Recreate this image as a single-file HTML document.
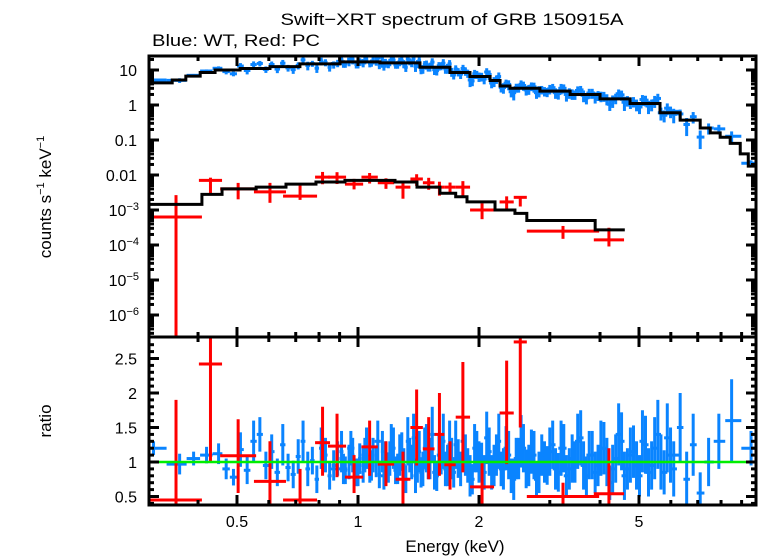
<!DOCTYPE html>
<html><head><meta charset="utf-8"><style>
html,body{margin:0;padding:0;background:#fff;}
svg{display:block;font-family:"Liberation Sans",sans-serif;}
</style></head><body>
<svg id="chart" width="758" height="556" viewBox="0 0 758 556" xmlns="http://www.w3.org/2000/svg">
<text x="452" y="25" font-size="17" text-anchor="middle" textLength="343" lengthAdjust="spacingAndGlyphs">Swift−XRT spectrum of GRB 150915A</text>
<text x="152" y="46" font-size="17" textLength="168" lengthAdjust="spacingAndGlyphs">Blue: WT, Red: PC</text>
<text transform="translate(51,197) rotate(-90)" font-size="17" text-anchor="middle">counts s<tspan font-size="11" dy="-7">−1</tspan><tspan dy="7"> keV</tspan><tspan font-size="11" dy="-7">−1</tspan></text>
<text transform="translate(51,421) rotate(-90)" font-size="17" text-anchor="middle">ratio</text>
<text x="455" y="552" font-size="17" text-anchor="middle">Energy (keV)</text>
<g id="gTop"></g>
<g id="gBot"></g>
<g id="gAxes"></g>
</svg>
<script>
// ---- data ----
const wtModelEdges=[0.304,0.345,0.373,0.405,0.441,0.509,0.604,0.717,0.902,1.134,1.426,1.694,1.899,2.131,2.256,2.388,2.835,3.37,4.0,4.75,5.64,6.33,7.1,7.52,7.96,8.43,8.93,9.35,9.79];
const wtModelVals=[4.3,5.2,6.7,8.5,10,11,12.5,15,17,16,12,8.5,6.5,5,3.5,3,2.5,2,1.5,1.1,0.6,0.37,0.22,0.16,0.12,0.08,0.04,0.018];
const pcModelEdges=[0.304,0.409,0.459,0.558,0.662,0.786,0.928,1.236,1.402,1.599,1.75,1.867,2.192,2.457,2.63,3.89,4.61];
const pcModelVals=[1.45e-3,2.8e-3,4e-3,4.5e-3,5.5e-3,6.3e-3,7e-3,6.3e-3,4.5e-3,3e-3,2.4e-3,1.7e-3,1e-3,8e-4,5e-4,2.7e-4];
const wtEnergy=[0.31,0.36,0.39,0.42,0.45,0.47,0.49,0.51,0.53,0.55,0.57,0.59,0.61,0.63,0.65,0.67,0.69,0.71,0.73,0.75,0.77,0.79,0.81,0.83,0.85,0.87,0.89,0.91,0.93,0.95,0.97,0.99,1.01,1.03,1.05,1.07,1.09,1.11,1.13,1.15,1.17,1.19,1.21,1.24,1.27,1.30,1.33,1.36,1.39,1.42,1.45,1.48,1.51,1.55,1.59,1.63,1.67,1.71,1.75,1.80,1.85,1.90,1.95,2.00,2.06,2.12,2.18,2.24,2.30,2.37,2.44,2.51,2.58,2.66,2.74,2.82,2.91,3.00,3.10,3.20,3.30,3.41,3.52,3.64,3.76,3.89,4.02,4.16,4.30,4.45,4.60,4.76,4.93,5.10,5.28,5.47,5.67,5.88,6.10,6.33,6.57,6.82,7.10,7.45,7.9,8.5,9.5];
const wtRatio=[1.2,0.97,1.05,1.1,1.12,0.9,0.78,1.18,0.88,1.3,1.4,0.95,1.15,0.85,1.25,0.92,0.82,1.08,1.3,0.9,1.02,0.75,1.2,1.1,0.8,0.95,1.05,1.15,0.88,1.0,1.1,0.85,1.05,0.95,1.2,0.9,1.1,1.0,0.82,1.15,1.05,0.92,1.25,0.88,1.1,0.95,1.3,1.0,0.8,1.15,0.9,1.2,1.05,0.85,1.1,1.3,0.95,1.05,1.25,0.9,1.1,0.8,1.2,1.0,0.85,1.15,0.95,1.3,0.9,1.1,0.75,1.05,1.2,0.95,1.1,0.85,1.0,1.15,0.9,1.2,0.8,1.05,1.3,0.95,1.1,0.85,1.2,1.0,0.9,1.4,0.8,1.1,0.95,1.3,0.85,1.2,1.0,1.35,0.9,1.5,0.75,1.25,0.55,1.0,1.3,1.6,1.2];
const wtErr=[0.1,0.15,0.1,0.12,0.15,0.15,0.12,0.25,0.2,0.3,0.25,0.2,0.25,0.2,0.3,0.2,0.2,0.25,0.3,0.25,0.2,0.2,0.3,0.25,0.2,0.22,0.25,0.3,0.2,0.25,0.25,0.2,0.22,0.25,0.3,0.2,0.25,0.22,0.2,0.3,0.25,0.22,0.3,0.2,0.3,0.25,0.35,0.25,0.25,0.3,0.25,0.35,0.3,0.25,0.3,0.4,0.3,0.3,0.35,0.25,0.3,0.3,0.35,0.3,0.25,0.35,0.3,0.4,0.3,0.35,0.3,0.3,0.35,0.3,0.35,0.3,0.3,0.35,0.3,0.4,0.3,0.35,0.4,0.35,0.35,0.3,0.4,0.35,0.35,0.45,0.35,0.4,0.35,0.45,0.35,0.45,0.4,0.5,0.4,0.5,0.4,0.45,0.3,0.35,0.4,0.6,0.25];
const wtEnergy2=[0.92,0.96,1.0,1.04,1.08,1.12,1.16,1.2,1.225,1.255,1.285,1.315,1.345,1.375,1.405,1.435,1.465,1.495,1.53,1.57,1.61,1.65,1.69,1.73,1.775,1.825,1.875,1.925,1.975,2.03,2.09,2.15,2.21,2.27,2.335,2.405,2.475,2.545,2.62,2.70,2.78,2.865,2.955,3.05,3.15,3.25,3.355,3.465,3.58,3.70,3.825,3.955,4.09,4.23,4.375,4.525,4.68,4.845,5.015,5.19,5.375,5.57,5.775,5.99];
const wtRatio2=[0.9,1.2,0.85,1.1,0.95,1.3,0.8,1.05,1.2,0.9,1.15,0.75,1.1,1.35,0.95,0.85,1.2,1.0,1.4,0.8,1.1,0.9,1.25,0.85,1.05,1.3,0.95,0.75,1.15,1.0,1.35,0.85,1.1,0.9,1.2,0.8,1.05,1.3,0.9,1.15,0.75,1.1,0.95,1.25,0.85,1.2,0.9,1.0,1.35,0.8,1.1,0.95,1.2,0.7,1.05,1.3,0.9,1.15,0.8,1.25,0.95,1.4,0.85,1.1];
const wtErr2=[0.22,0.25,0.2,0.25,0.22,0.3,0.2,0.25,0.3,0.22,0.28,0.2,0.25,0.35,0.25,0.22,0.3,0.25,0.4,0.22,0.28,0.25,0.35,0.22,0.28,0.35,0.25,0.22,0.3,0.28,0.38,0.25,0.3,0.25,0.32,0.25,0.3,0.38,0.28,0.32,0.25,0.3,0.28,0.35,0.28,0.35,0.3,0.3,0.4,0.28,0.35,0.3,0.38,0.25,0.35,0.42,0.3,0.38,0.3,0.42,0.35,0.5,0.32,0.4];
const pcLo=[0.304,0.402,0.454,0.551,0.651,0.782,0.842,0.928,1.02,1.12,1.24,1.35,1.45,1.55,1.64,1.75,1.90,2.25,2.44,2.63,3.86];
const pcHi=[0.409,0.459,0.558,0.662,0.791,0.852,0.934,1.03,1.12,1.23,1.35,1.45,1.55,1.64,1.75,1.90,2.18,2.44,2.63,3.98,4.59];
const pcCounts=[6.3e-4,7e-3,4e-3,3.3e-3,2.5e-3,8.7e-3,8.7e-3,5.5e-3,8.7e-3,6e-3,4.5e-3,7.7e-3,6e-3,4.5e-3,4.5e-3,4.5e-3,1e-3,1.7e-3,2.3e-3,2.5e-4,1.4e-4];
const pcRatio=[0.45,2.42,1.09,0.72,0.45,1.28,1.23,0.78,1.22,0.97,0.75,1.5,1.19,1.4,0.96,1.65,0.64,1.71,2.74,0.5,0.54];
const pcRLo=[0.0,1.0,0.55,0.35,0.35,0.8,0.78,0.55,0.8,0.65,0.35,0.95,0.75,0.8,0.6,0.85,0.35,0.97,1.5,0.3,0.35];
const pcRHi=[1.9,2.9,1.62,1.3,0.9,1.8,1.7,1.1,1.6,1.3,1.15,2.05,1.65,2.0,1.3,2.45,1.0,2.47,2.85,0.7,1.2];
const xTicksMajor=[0.5,1,2,5];
const xTickLabels=["0.5","1","2","5"];
const yTopExp=[1,0,-1,-2,-3,-4,-5,-6];
const yTopLabels=["10","1","0.1","0.01","10|−3","10|−4","10|−5","10|−6"];
const yBotTicks=[0.5,1,1.5,2,2.5];
const yBotLabels=["0.5","1","1.5","2","2.5"];

// ---- geometry ----
const L=149,R=756,T1=56,B1=337,T2=337,B2=505;
const X=e=>358+402*Math.log10(e);
const YT=v=>105-35*Math.log10(v);
const YB=r=>462-69*(r-1);
const NS="http://www.w3.org/2000/svg";
const BLUE="#0a84ff",RED="#ff0000";
function el(tag,attrs,parent){const e=document.createElementNS(NS,tag);for(const k in attrs)e.setAttribute(k,attrs[k]);parent.appendChild(e);return e;}
const gTop=document.getElementById('gTop'),gBot=document.getElementById('gBot'),gAx=document.getElementById('gAxes');
const defs=el('defs',{},document.getElementById('chart'));
const c1=el('clipPath',{id:'c1'},defs);el('rect',{x:L,y:T1,width:R-L,height:B1-T1},c1);
const c2=el('clipPath',{id:'c2'},defs);el('rect',{x:L,y:T2,width:R-L,height:B2-T2},c2);
gTop.setAttribute('clip-path','url(#c1)');gBot.setAttribute('clip-path','url(#c2)');
function modelAt(edges,vals,e){for(let i=0;i<vals.length;i++){if(e>=edges[i]&&e<edges[i+1])return vals[i];}return vals[vals.length-1];}
function stepPath(edges,vals){let d='';for(let i=0;i<vals.length;i++){const y=YT(vals[i]);d+=(i?'L':'M')+X(edges[i])+','+y+'L'+X(edges[i+1])+','+y;}return d;}
const yClamp=v=>v>0?YT(v):B1+10;

function drawBlue(E,RA,ER){
  const n=Math.min(E.length,RA.length,ER.length);
  for(let i=0;i<n;i++){
    const e=E[i];
    const lo=i>0?Math.sqrt(E[i-1]*e):e*0.93;
    const hi=i<n-1?Math.sqrt(E[i+1]*e):e*1.05;
    const m=modelAt(wtModelEdges,wtModelVals,e);
    const r=RA[i],er=ER[i];
    const g=el('g',{stroke:BLUE,'stroke-width':3},gTop);
    
    
    el('line',{x1:X(lo),x2:X(hi),y1:YT(m*r),y2:YT(m*r)},g);
    el('line',{x1:X(e),x2:X(e),y1:YT(m*(r+er)),y2:yClamp(m*(r-er))},g);
    const g2=el('g',{stroke:BLUE,'stroke-width':3},gBot);
    
    
    el('line',{x1:X(lo),x2:X(hi),y1:YB(r),y2:YB(r)},g2);
    el('line',{x1:X(e),x2:X(e),y1:YB(r+er),y2:YB(r-er)},g2);
  }
}
drawBlue(wtEnergy,wtRatio,wtErr);
drawBlue(wtEnergy2,wtRatio2,wtErr2);
const wm=el('path',{d:stepPath(wtModelEdges,wtModelVals),fill:'none',stroke:'#000','stroke-width':3},gTop);


for(let i=0;i<pcCounts.length;i++){
  const e=Math.sqrt(pcLo[i]*pcHi[i]);
  const c=pcCounts[i],r=pcRatio[i];
  const g=el('g',{stroke:RED,'stroke-width':3},gTop);
  
  
  el('line',{x1:X(pcLo[i]),x2:X(pcHi[i]),y1:YT(c),y2:YT(c)},g);
  el('line',{x1:X(e),x2:X(e),y1:YT(c*pcRHi[i]/r),y2:yClamp(c*pcRLo[i]/r)},g);
  const g2=el('g',{stroke:RED,'stroke-width':3},gBot);
  
  
  el('line',{x1:X(pcLo[i]),x2:X(pcHi[i]),y1:YB(r),y2:YB(r)},g2);
  el('line',{x1:X(e),x2:X(e),y1:YB(pcRHi[i]),y2:YB(pcRLo[i])},g2);
}
const pm=el('path',{d:stepPath(pcModelEdges,pcModelVals),fill:'none',stroke:'#000','stroke-width':3},gTop);


const gl=el('line',{x1:L,x2:R,y1:YB(1),y2:YB(1),stroke:'#00ee00','stroke-width':2.5},gBot);



for(const [t,b] of [[T1,B1],[T2,B2]]){
  const f=el('rect',{x:L,y:t,width:R-L,height:b-t,fill:'none',stroke:'#000','stroke-width':3},gAx);
  
  
}
const minorE=[0.3,0.4,0.6,0.7,0.8,0.9,3,4,6,7,8,9];
for(const [t,b] of [[T1,B1],[T2,B2]]){
  for(const e of xTicksMajor){const x=X(e);el('line',{x1:x,x2:x,y1:t,y2:t+10,stroke:'#000','stroke-width':3},gAx);el('line',{x1:x,x2:x,y1:b,y2:b-10,stroke:'#000','stroke-width':3},gAx);}
  for(const e of minorE){const x=X(e);if(x<L+2)continue;el('line',{x1:x,x2:x,y1:t,y2:t+5,stroke:'#000','stroke-width':3},gAx);el('line',{x1:x,x2:x,y1:b,y2:b-5,stroke:'#000','stroke-width':3},gAx);}
}
xTicksMajor.forEach((e,i)=>{const t=el('text',{x:X(e),y:527,'font-size':16,'text-anchor':'middle'},gAx);t.textContent=xTickLabels[i];
  
  });
for(let k=-7;k<=1;k++){
  for(let m=1;m<10;m++){const v=m*Math.pow(10,k);const y=YT(v);if(y<T1+1||y>B1-1)continue;const len=m===1?10:5;
    el('line',{x1:L,x2:L+len,y1:y,y2:y,stroke:'#000','stroke-width':3},gAx);el('line',{x1:R,x2:R-len,y1:y,y2:y,stroke:'#000','stroke-width':3},gAx);}
}
yTopExp.forEach((k,i)=>{const y=YT(Math.pow(10,k))+6;const parts=yTopLabels[i].split('|');
  const t=el('text',{x:137,y:y,'font-size':16,'text-anchor':'end'},gAx);
  
  
  if(parts.length===1){t.textContent=parts[0];}else{t.setAttribute('x',139);t.textContent=parts[0];const s=el('tspan',{'font-size':11,dy:-6},t);s.textContent=parts[1];}
});
for(let r=0.4;r<2.85;r+=0.1){const rr=Math.round(r*10)/10;const y=YB(rr);if(y<T2+1||y>B2-1)continue;const maj=Math.abs(rr*2-Math.round(rr*2))<1e-6;const len=maj?10:5;
  el('line',{x1:L,x2:L+len,y1:y,y2:y,stroke:'#000','stroke-width':3},gAx);el('line',{x1:R,x2:R-len,y1:y,y2:y,stroke:'#000','stroke-width':3},gAx);}
yBotTicks.forEach((r,i)=>{const t=el('text',{x:137,y:YB(r)+6,'font-size':16,'text-anchor':'end'},gAx);t.textContent=yBotLabels[i];
  
  });
</script>
</body></html>
